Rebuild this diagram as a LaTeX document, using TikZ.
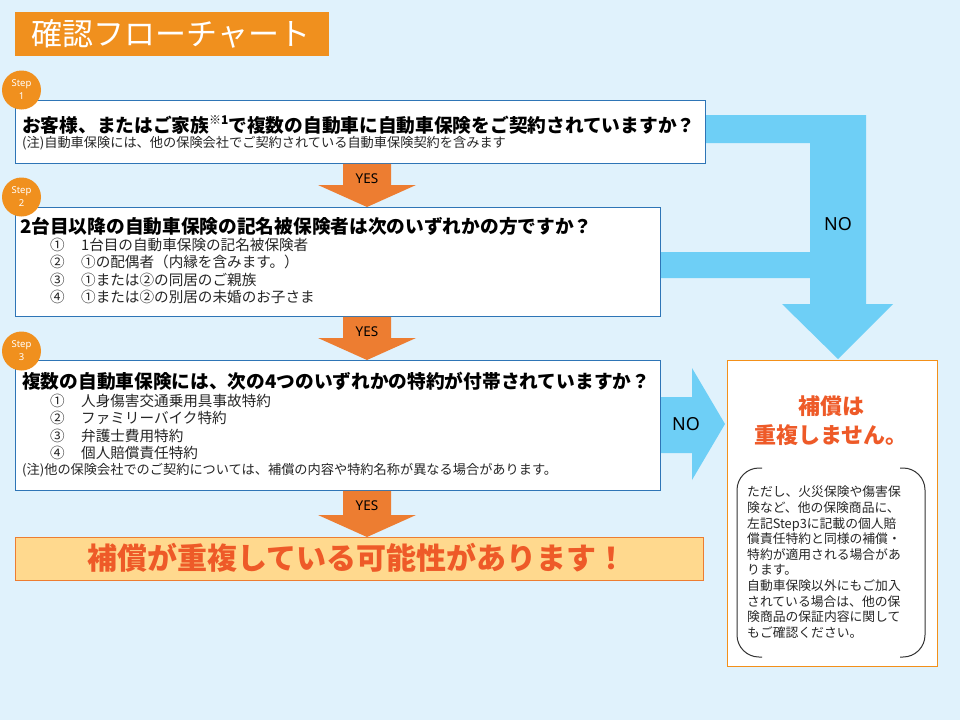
\documentclass[tikz,border=0pt]{standalone}
\usepackage{fontspec}
\newfontfamily\jp{Noto Sans CJK JP}
\newfontfamily\lat{Noto Sans}
\usetikzlibrary{calc}
\definecolor{bg}{RGB}{224,242,252}
\definecolor{ttlor}{RGB}{240,144,30}
\definecolor{yesor}{RGB}{237,125,49}
\definecolor{noblue}{RGB}{110,207,246}
\definecolor{boxblue}{RGB}{46,117,182}
\definecolor{resfill}{RGB}{255,217,142}
\definecolor{redor}{RGB}{238,90,40}
\definecolor{rbox}{RGB}{243,144,25}
\newcommand{\fs}[2]{\fontsize{#1}{#2}\selectfont}
\newcommand{\yesarrow}[3]{%
  \fill[yesor] let \p1=(#1.south), \p2=(#2.north) in
    (343pt,\y1) -- (391pt,\y1) -- (391pt,{\y2+22pt}) -- (416pt,{\y2+22pt})
    -- (367pt,\y2) -- (318pt,{\y2+22pt}) -- (343pt,{\y2+22pt}) -- cycle;
  \path let \p1=(#1.south) in node[yeslbl] (#3) at (367pt,{\y1-15pt}) {YES};}
\begin{document}
\begin{tikzpicture}[x=1pt,y=-1pt,
  qbox/.style={draw=boxblue,fill=white,line width=0.9pt,inner sep=0pt,anchor=north west},
  stepc/.style={circle,fill=ttlor,minimum size=39pt,inner sep=0pt,text=white,font=\lat\fs{9.5}{13},align=center},
  txt/.style={anchor=west,inner sep=0pt,font=\jp},
  head/.style={txt,font=\jp\bfseries\fs{18.7}{22}},
  item/.style={txt,font=\jp\fs{14.6}{18},text=black!85},
  note/.style={txt,font=\jp\fs{13.2}{15},text=black!85},
  yeslbl/.style={font=\lat\fs{13.5}{15},inner sep=0pt},
  nolbl/.style={font=\lat\fs{18}{20},inner sep=0pt},
]
\useasboundingbox (0,0) rectangle (960,720);
\fill[bg] (0,0) rectangle (960,720);

% title
\node[fill=ttlor,minimum width=314pt,minimum height=44pt,anchor=north west,inner sep=0pt] (title) at (15,12) {};
\node[font=\jp\fs{31}{34},text=white,inner sep=0pt] (titletxt) at (171,34) {確認フローチャート};

% blue NO arrows (behind boxes)
\fill[noblue] (700,115) -- (866,115) -- (866,304) -- (893,304) -- (838,359) -- (782,304) -- (810,304)
  -- (810,278) -- (655,278) -- (655,252) -- (810,252) -- (810,143) -- (700,143) -- cycle;
\fill[noblue] (655,397) -- (692,397) -- (692,368) -- (725,424) -- (692,480) -- (692,453) -- (655,453) -- cycle;

% boxes
\node[qbox,minimum width=690pt,minimum height=63pt] (b1) at (15,100) {};
\node[qbox,minimum width=645pt,minimum height=109pt] (b2) at (15,207) {};
\node[qbox,minimum width=645pt,minimum height=130pt] (b3) at (15,360) {};
\node[draw=yesor,fill=resfill,line width=0.9pt,minimum width=688pt,minimum height=43pt,anchor=north west,inner sep=0pt] (res) at (15,537) {};
\node[draw=rbox,fill=white,line width=0.9pt,minimum width=210pt,minimum height=306pt,anchor=north west,inner sep=0pt] (rb) at (727,360) {};

% YES arrows
\yesarrow{b1}{b2}{yes1}
\yesarrow{b2}{b3}{yes2}
\yesarrow{b3}{res}{yes3}

% NO labels
\node[nolbl] (no1) at (838,224) {NO};
\node[nolbl] (no2) at (686,424) {NO};

% step circles
\node[stepc] (s1) at (21.5,90) {Step\\1};
\node[stepc] (s2) at (21.5,197) {Step\\2};
\node[stepc] (s3) at (21.5,351) {Step\\3};

% box 1 text
\node[head] (h1) at (22,125) {お客様、またはご家族\raisebox{0.42em}{\fs{12}{12}※1}で複数の自動車に自動車保険をご契約されていますか？};
\node[note] (n1) at (22,143) {(注)自動車保険には、他の保険会社でご契約されている自動車保険契約を含みます};

% box 2 text
\node[head] (h2) at (20,226) {2台目以降の自動車保険の記名被保険者は次のいずれかの方ですか？};
\node[item] (i21) at (50,245) {\makebox[31pt][l]{①}1台目の自動車保険の記名被保険者};
\node[item] (i22) at (50,262) {\makebox[31pt][l]{②}①の配偶者（内縁を含みます。）};
\node[item] (i23) at (50,280) {\makebox[31pt][l]{③}①または②の同居のご親族};
\node[item] (i24) at (50,297) {\makebox[31pt][l]{④}①または②の別居の未婚のお子さま};

% box 3 text
\node[head] (h3) at (22,381) {複数の自動車保険には、次の4つのいずれかの特約が付帯されていますか？};
\node[item] (i31) at (50,401) {\makebox[31pt][l]{①}人身傷害交通乗用具事故特約};
\node[item] (i32) at (50,418) {\makebox[31pt][l]{②}ファミリーバイク特約};
\node[item] (i33) at (50,436) {\makebox[31pt][l]{③}弁護士費用特約};
\node[item] (i34) at (50,453) {\makebox[31pt][l]{④}個人賠償責任特約};
\node[note] (n3) at (22,470) {(注)他の保険会社でのご契約については、補償の内容や特約名称が異なる場合があります。};

% result
\node[font=\jp\bfseries\fs{30}{34},text=redor,inner sep=0pt] (restxt) at (357,558) {補償が重複している可能性があります！};

% right box
\node[font=\jp\bfseries\fs{22}{29},text=redor,align=center,inner sep=0pt] (rtitle) at (831,421) {補償は\\重複しません。};
\draw[line width=1pt,black!80,rounded corners=22pt] (762,468) -- (737,468) -- (737,657) -- (762,657);
\draw[line width=1pt,black!80,rounded corners=22pt] (900,468) -- (925,468) -- (925,657) -- (900,657);
\node[anchor=north west,inner sep=0pt,font=\jp\fs{12.8}{15.6},align=left,text=black!85] (rtxt) at (747,486)
 {ただし、火災保険や傷害保\\険など、他の保険商品に、\\左記Step3に記載の個人賠\\償責任特約と同様の補償・\\特約が適用される場合があ\\ります。\\自動車保険以外にもご加入\\されている場合は、他の保\\険商品の保証内容に関して\\もご確認ください。};
\end{tikzpicture}
\end{document}
